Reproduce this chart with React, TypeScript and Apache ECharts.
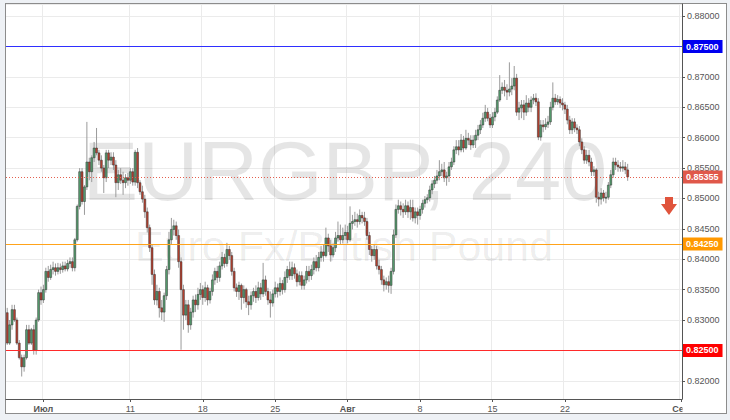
import React, { useEffect, useRef } from "react";
import * as echarts from "echarts";

// trading days shown on the 4-hour chart (Jun 28 starts at 12:00, Sep 1 only its first slot)
const tradingDays = [
  "2016-06-28", "2016-06-29", "2016-06-30", "2016-07-01",
  "2016-07-04", "2016-07-05", "2016-07-06", "2016-07-07", "2016-07-08",
  "2016-07-11", "2016-07-12", "2016-07-13", "2016-07-14", "2016-07-15",
  "2016-07-18", "2016-07-19", "2016-07-20", "2016-07-21", "2016-07-22",
  "2016-07-25", "2016-07-26", "2016-07-27", "2016-07-28", "2016-07-29",
  "2016-08-01", "2016-08-02", "2016-08-03", "2016-08-04", "2016-08-05",
  "2016-08-08", "2016-08-09", "2016-08-10", "2016-08-11", "2016-08-12",
  "2016-08-15", "2016-08-16", "2016-08-17", "2016-08-18", "2016-08-19",
  "2016-08-22", "2016-08-23", "2016-08-24", "2016-08-25", "2016-08-26",
  "2016-08-29", "2016-08-30", "2016-08-31", "2016-09-01",
];
const sessionHours = [0, 4, 8, 12, 16, 20];
const firstDayStartHour = 12;

const tickDates = ["2016-07-01", "2016-07-11", "2016-07-18", "2016-07-25", "2016-08-01", "2016-08-08", "2016-08-15", "2016-08-22", "2016-09-01"];
const tickLabels = ["Июл", "11", "18", "25", "Авг", "8", "15", "22", "Сен"];
const monthLabels = ["Июл", "Авг", "Сен"];

// EURGBP 4H candles: [open, close, low, high]
const ohlc = [
  // Jun 28
  [0.8312, 0.8262, 0.8259, 0.8320], [0.8262, 0.8292, 0.8259, 0.8300], [0.8292, 0.8317, 0.8284, 0.8325],
  // Jun 29
  [0.8317, 0.8300, 0.8297, 0.8325], [0.8300, 0.8262, 0.8259, 0.8304], [0.8262, 0.8238, 0.8235, 0.8267], [0.8238, 0.8223, 0.8207, 0.8243], [0.8223, 0.8238, 0.8215, 0.8243], [0.8238, 0.8284, 0.8235, 0.8292],
  // Jun 30
  [0.8284, 0.8262, 0.8259, 0.8292], [0.8262, 0.8284, 0.8259, 0.8287], [0.8284, 0.8250, 0.8243, 0.8292], [0.8250, 0.8300, 0.8243, 0.8304], [0.8300, 0.8345, 0.8297, 0.8350], [0.8345, 0.8333, 0.8325, 0.8355],
  // Jul 1
  [0.8333, 0.8350, 0.8328, 0.8358], [0.8350, 0.8380, 0.8345, 0.8386], [0.8380, 0.8370, 0.8363, 0.8389], [0.8370, 0.8383, 0.8366, 0.8391], [0.8383, 0.8386, 0.8375, 0.8396], [0.8386, 0.8380, 0.8373, 0.8393],
  // Jul 4
  [0.8380, 0.8386, 0.8375, 0.8394], [0.8386, 0.8383, 0.8376, 0.8393], [0.8383, 0.8389, 0.8378, 0.8396], [0.8389, 0.8384, 0.8380, 0.8396], [0.8384, 0.8393, 0.8380, 0.8399], [0.8393, 0.8396, 0.8386, 0.8403],
  // Jul 5
  [0.8396, 0.8386, 0.8380, 0.8403], [0.8386, 0.8432, 0.8380, 0.8435], [0.8432, 0.8487, 0.8429, 0.8490], [0.8487, 0.8544, 0.8482, 0.8550], [0.8544, 0.8495, 0.8490, 0.8550], [0.8495, 0.8519, 0.8473, 0.8522],
  // Jul 6
  [0.8519, 0.8560, 0.8514, 0.8626], [0.8560, 0.8544, 0.8530, 0.8567], [0.8544, 0.8567, 0.8527, 0.8571], [0.8567, 0.8583, 0.8560, 0.8593], [0.8583, 0.8575, 0.8571, 0.8616], [0.8575, 0.8563, 0.8555, 0.8580],
  // Jul 7
  [0.8563, 0.8550, 0.8544, 0.8571], [0.8550, 0.8534, 0.8509, 0.8555], [0.8534, 0.8575, 0.8527, 0.8580], [0.8575, 0.8563, 0.8550, 0.8580], [0.8563, 0.8568, 0.8555, 0.8576], [0.8568, 0.8555, 0.8547, 0.8576],
  // Jul 8
  [0.8555, 0.8526, 0.8502, 0.8563], [0.8526, 0.8539, 0.8514, 0.8547], [0.8539, 0.8530, 0.8524, 0.8550], [0.8530, 0.8526, 0.8506, 0.8544], [0.8526, 0.8534, 0.8517, 0.8540], [0.8534, 0.8530, 0.8521, 0.8542],
  // Jul 11
  [0.8530, 0.8544, 0.8524, 0.8550], [0.8544, 0.8527, 0.8521, 0.8550], [0.8527, 0.8576, 0.8521, 0.8580], [0.8576, 0.8526, 0.8517, 0.8583], [0.8526, 0.8511, 0.8506, 0.8530], [0.8511, 0.8499, 0.8493, 0.8521],
  // Jul 12
  [0.8499, 0.8478, 0.8468, 0.8506], [0.8478, 0.8452, 0.8444, 0.8485], [0.8452, 0.8419, 0.8412, 0.8457], [0.8419, 0.8375, 0.8358, 0.8424], [0.8375, 0.8333, 0.8325, 0.8383], [0.8333, 0.8347, 0.8324, 0.8358],
  // Jul 13
  [0.8347, 0.8320, 0.8304, 0.8353], [0.8320, 0.8313, 0.8300, 0.8333], [0.8313, 0.8340, 0.8297, 0.8345], [0.8340, 0.8383, 0.8333, 0.8389], [0.8383, 0.8432, 0.8375, 0.8445], [0.8432, 0.8449, 0.8424, 0.8468],
  // Jul 14
  [0.8449, 0.8455, 0.8439, 0.8465], [0.8455, 0.8439, 0.8432, 0.8462], [0.8439, 0.8396, 0.8386, 0.8449], [0.8396, 0.8350, 0.8251, 0.8403], [0.8350, 0.8308, 0.8284, 0.8358], [0.8308, 0.8325, 0.8300, 0.8333],
  // Jul 15
  [0.8325, 0.8292, 0.8279, 0.8333], [0.8292, 0.8313, 0.8284, 0.8320], [0.8313, 0.8333, 0.8304, 0.8340], [0.8333, 0.8325, 0.8313, 0.8342], [0.8325, 0.8342, 0.8317, 0.8353], [0.8342, 0.8350, 0.8333, 0.8361],
  // Jul 18
  [0.8350, 0.8337, 0.8325, 0.8357], [0.8337, 0.8353, 0.8330, 0.8363], [0.8353, 0.8333, 0.8324, 0.8358], [0.8333, 0.8347, 0.8327, 0.8353], [0.8347, 0.8366, 0.8340, 0.8375], [0.8366, 0.8380, 0.8358, 0.8386],
  // Jul 19
  [0.8380, 0.8370, 0.8361, 0.8389], [0.8370, 0.8389, 0.8363, 0.8396], [0.8389, 0.8403, 0.8383, 0.8412], [0.8403, 0.8393, 0.8386, 0.8409], [0.8393, 0.8416, 0.8388, 0.8427], [0.8416, 0.8406, 0.8399, 0.8422],
  // Jul 20
  [0.8406, 0.8380, 0.8373, 0.8412], [0.8380, 0.8353, 0.8347, 0.8386], [0.8353, 0.8347, 0.8338, 0.8360], [0.8347, 0.8357, 0.8333, 0.8363], [0.8357, 0.8337, 0.8317, 0.8360], [0.8337, 0.8350, 0.8327, 0.8357],
  // Jul 21
  [0.8350, 0.8330, 0.8320, 0.8353], [0.8330, 0.8325, 0.8308, 0.8340], [0.8325, 0.8340, 0.8317, 0.8347], [0.8340, 0.8347, 0.8330, 0.8353], [0.8347, 0.8337, 0.8328, 0.8357], [0.8337, 0.8353, 0.8332, 0.8363],
  // Jul 22
  [0.8353, 0.8343, 0.8333, 0.8361], [0.8343, 0.8366, 0.8338, 0.8394], [0.8366, 0.8347, 0.8340, 0.8373], [0.8347, 0.8333, 0.8325, 0.8353], [0.8333, 0.8328, 0.8304, 0.8347], [0.8328, 0.8343, 0.8322, 0.8350],
  // Jul 25
  [0.8343, 0.8353, 0.8337, 0.8363], [0.8353, 0.8347, 0.8337, 0.8360], [0.8347, 0.8360, 0.8340, 0.8370], [0.8360, 0.8350, 0.8342, 0.8366], [0.8350, 0.8370, 0.8345, 0.8380], [0.8370, 0.8383, 0.8361, 0.8389],
  // Jul 26
  [0.8383, 0.8373, 0.8366, 0.8396], [0.8373, 0.8386, 0.8366, 0.8396], [0.8386, 0.8376, 0.8368, 0.8393], [0.8376, 0.8363, 0.8355, 0.8383], [0.8363, 0.8373, 0.8357, 0.8380], [0.8373, 0.8357, 0.8350, 0.8380],
  // Jul 27
  [0.8357, 0.8366, 0.8350, 0.8373], [0.8366, 0.8380, 0.8360, 0.8389], [0.8380, 0.8373, 0.8363, 0.8389], [0.8373, 0.8383, 0.8366, 0.8391], [0.8383, 0.8396, 0.8375, 0.8403], [0.8396, 0.8386, 0.8380, 0.8407],
  // Jul 28
  [0.8386, 0.8403, 0.8380, 0.8412], [0.8403, 0.8412, 0.8396, 0.8422], [0.8412, 0.8406, 0.8396, 0.8424], [0.8406, 0.8435, 0.8403, 0.8452], [0.8435, 0.8422, 0.8412, 0.8442], [0.8422, 0.8407, 0.8396, 0.8432],
  // Jul 29
  [0.8407, 0.8419, 0.8403, 0.8426], [0.8419, 0.8435, 0.8412, 0.8445], [0.8435, 0.8439, 0.8429, 0.8462], [0.8439, 0.8432, 0.8424, 0.8457], [0.8432, 0.8439, 0.8426, 0.8452], [0.8439, 0.8444, 0.8432, 0.8457],
  // Aug 1
  [0.8444, 0.8432, 0.8426, 0.8455], [0.8432, 0.8459, 0.8429, 0.8487], [0.8459, 0.8462, 0.8449, 0.8473], [0.8462, 0.8465, 0.8455, 0.8478], [0.8465, 0.8462, 0.8452, 0.8475], [0.8462, 0.8472, 0.8457, 0.8482],
  // Aug 2
  [0.8472, 0.8468, 0.8459, 0.8478], [0.8468, 0.8462, 0.8455, 0.8478], [0.8462, 0.8439, 0.8432, 0.8468], [0.8439, 0.8416, 0.8407, 0.8445], [0.8416, 0.8406, 0.8396, 0.8422], [0.8406, 0.8416, 0.8399, 0.8424],
  // Aug 3
  [0.8416, 0.8389, 0.8383, 0.8422], [0.8389, 0.8383, 0.8375, 0.8399], [0.8383, 0.8366, 0.8358, 0.8389], [0.8366, 0.8358, 0.8347, 0.8373], [0.8358, 0.8363, 0.8350, 0.8370], [0.8363, 0.8357, 0.8345, 0.8373],
  // Aug 4
  [0.8357, 0.8380, 0.8343, 0.8386], [0.8380, 0.8440, 0.8375, 0.8449], [0.8440, 0.8482, 0.8435, 0.8490], [0.8482, 0.8488, 0.8475, 0.8498], [0.8488, 0.8482, 0.8472, 0.8495], [0.8482, 0.8478, 0.8468, 0.8492],
  // Aug 5
  [0.8478, 0.8488, 0.8473, 0.8498], [0.8488, 0.8478, 0.8468, 0.8495], [0.8478, 0.8485, 0.8465, 0.8498], [0.8485, 0.8468, 0.8462, 0.8498], [0.8468, 0.8478, 0.8459, 0.8485], [0.8478, 0.8472, 0.8457, 0.8485],
  // Aug 8
  [0.8472, 0.8482, 0.8465, 0.8488], [0.8482, 0.8492, 0.8475, 0.8498], [0.8492, 0.8498, 0.8485, 0.8504], [0.8498, 0.8501, 0.8492, 0.8507], [0.8501, 0.8514, 0.8495, 0.8521], [0.8514, 0.8524, 0.8507, 0.8530],
  // Aug 9
  [0.8524, 0.8530, 0.8517, 0.8537], [0.8530, 0.8537, 0.8524, 0.8547], [0.8537, 0.8544, 0.8530, 0.8563], [0.8544, 0.8547, 0.8537, 0.8557], [0.8547, 0.8534, 0.8527, 0.8560], [0.8534, 0.8537, 0.8521, 0.8544],
  // Aug 10
  [0.8537, 0.8552, 0.8527, 0.8560], [0.8552, 0.8560, 0.8547, 0.8567], [0.8560, 0.8580, 0.8555, 0.8586], [0.8580, 0.8585, 0.8573, 0.8596], [0.8585, 0.8580, 0.8571, 0.8596], [0.8580, 0.8596, 0.8576, 0.8606],
  // Aug 11
  [0.8596, 0.8583, 0.8576, 0.8603], [0.8583, 0.8599, 0.8580, 0.8613], [0.8599, 0.8596, 0.8588, 0.8608], [0.8596, 0.8588, 0.8580, 0.8604], [0.8588, 0.8596, 0.8583, 0.8604], [0.8596, 0.8604, 0.8583, 0.8613],
  // Aug 12
  [0.8604, 0.8613, 0.8596, 0.8621], [0.8613, 0.8621, 0.8606, 0.8629], [0.8621, 0.8632, 0.8616, 0.8641], [0.8632, 0.8642, 0.8626, 0.8654], [0.8642, 0.8632, 0.8627, 0.8649], [0.8632, 0.8621, 0.8616, 0.8639],
  // Aug 15
  [0.8621, 0.8634, 0.8616, 0.8642], [0.8634, 0.8642, 0.8627, 0.8649], [0.8642, 0.8662, 0.8639, 0.8668], [0.8662, 0.8678, 0.8659, 0.8703], [0.8678, 0.8683, 0.8672, 0.8691], [0.8683, 0.8678, 0.8668, 0.8695],
  // Aug 16
  [0.8678, 0.8675, 0.8662, 0.8688], [0.8675, 0.8680, 0.8668, 0.8724], [0.8680, 0.8685, 0.8670, 0.8698], [0.8685, 0.8698, 0.8678, 0.8718], [0.8698, 0.8642, 0.8636, 0.8705], [0.8642, 0.8649, 0.8629, 0.8659],
  // Aug 17
  [0.8649, 0.8654, 0.8632, 0.8662], [0.8654, 0.8642, 0.8629, 0.8662], [0.8642, 0.8657, 0.8636, 0.8670], [0.8657, 0.8650, 0.8642, 0.8665], [0.8650, 0.8662, 0.8642, 0.8668], [0.8662, 0.8665, 0.8655, 0.8672],
  // Aug 18
  [0.8665, 0.8659, 0.8652, 0.8673], [0.8659, 0.8601, 0.8596, 0.8665], [0.8601, 0.8621, 0.8595, 0.8629], [0.8621, 0.8618, 0.8609, 0.8629], [0.8618, 0.8622, 0.8613, 0.8632], [0.8622, 0.8626, 0.8616, 0.8636],
  // Aug 19
  [0.8626, 0.8650, 0.8621, 0.8659], [0.8650, 0.8665, 0.8645, 0.8691], [0.8665, 0.8659, 0.8654, 0.8672], [0.8659, 0.8663, 0.8654, 0.8670], [0.8663, 0.8657, 0.8649, 0.8668], [0.8657, 0.8654, 0.8645, 0.8665],
  // Aug 22
  [0.8654, 0.8647, 0.8639, 0.8659], [0.8647, 0.8629, 0.8622, 0.8654], [0.8629, 0.8613, 0.8606, 0.8636], [0.8613, 0.8626, 0.8606, 0.8632], [0.8626, 0.8616, 0.8609, 0.8632], [0.8616, 0.8613, 0.8606, 0.8622],
  // Aug 23
  [0.8613, 0.8593, 0.8586, 0.8619], [0.8593, 0.8580, 0.8573, 0.8599], [0.8580, 0.8563, 0.8557, 0.8586], [0.8563, 0.8571, 0.8557, 0.8580], [0.8571, 0.8560, 0.8553, 0.8580], [0.8560, 0.8544, 0.8537, 0.8567],
  // Aug 24
  [0.8544, 0.8547, 0.8537, 0.8553], [0.8547, 0.8502, 0.8493, 0.8550], [0.8502, 0.8499, 0.8487, 0.8511], [0.8499, 0.8509, 0.8490, 0.8517], [0.8509, 0.8501, 0.8495, 0.8514], [0.8501, 0.8502, 0.8492, 0.8511],
  // Aug 25
  [0.8502, 0.8522, 0.8498, 0.8527], [0.8522, 0.8539, 0.8517, 0.8547], [0.8539, 0.8560, 0.8534, 0.8567], [0.8560, 0.8555, 0.8547, 0.8567], [0.8555, 0.8552, 0.8544, 0.8563], [0.8552, 0.8550, 0.8544, 0.8560],
  // Aug 26
  [0.8550, 0.8552, 0.8544, 0.8563], [0.8552, 0.8547, 0.8540, 0.8560], [0.8547, 0.85355, 0.8529, 0.8557],
];

const levelValues = [0.875, 0.8425, 0.825];
const levelLineColors = ["#2f2fff", "#ffa31a", "#ff2a2a"];
const levelBadgeColors = ["#0000f0", "#ff9800", "#ff0000"];
const lastPrice = 0.85355;

const FONT = '"Liberation Sans", Arial, sans-serif';
const UP = "#559e6e";
const DOWN = "#b8402e";

function buildCategories(): string[] {
  const out: string[] = [];
  tradingDays.forEach((d, k) => {
    let hours = sessionHours;
    if (k === 0) hours = sessionHours.filter((h) => h >= firstDayStartHour);
    if (k === tradingDays.length - 1) hours = [sessionHours[0]];
    hours.forEach((h) => out.push(`${d} ${String(h).padStart(2, "0")}:00`));
  });
  return out;
}

export default function App() {
  const ref = useRef<HTMLDivElement>(null);
  useEffect(() => {
    if (!ref.current) return;
    const chart = echarts.init(ref.current, undefined, { renderer: "svg" });
    const categories = buildCategories();
    const tickMap: Record<string, string> = {};
    tickDates.forEach((d, i) => (tickMap[d] = tickLabels[i]));
    const isTick = (_i: number, v: string) => v.endsWith(" 00:00") && tickMap[v.slice(0, 10)] !== undefined;
    const data = ohlc.map((r, i) => [i, r[0], r[1], r[2], r[3]]);

    const badge = (bg: string, text: string) => ({
      show: true,
      position: "end",
      distance: 1,
      formatter: text,
      color: "#fff",
      fontWeight: "bold",
      fontSize: 9,
      fontFamily: FONT,
      backgroundColor: bg,
      padding: [2, 4, 2, 3],
    });

    const markData: any[] = levelValues.map((v, i) => ({
      yAxis: v,
      lineStyle: { color: levelLineColors[i], width: 1, type: "solid" },
      label: badge(levelBadgeColors[i], v.toFixed(5)),
    }));
    markData.push({
      yAxis: lastPrice,
      lineStyle: { color: "#e4604f", width: 1, type: [1, 2] },
      label: badge("#e0584a", lastPrice.toFixed(5)),
    });

    chart.setOption({
      animation: false,
      backgroundColor: "transparent",
      grid: { left: 6, right: 48, top: 4, bottom: 21, containLabel: false },
      xAxis: {
        type: "category",
        data: categories,
        boundaryGap: true,
        axisLine: { lineStyle: { color: "#555", width: 1 } },
        axisTick: { show: true, interval: isTick, alignWithLabel: true, length: 3, lineStyle: { color: "#555" } },
        axisLabel: {
          interval: isTick,
          margin: 5,
          color: "#555",
          fontSize: 9,
          fontFamily: FONT,
          formatter: (v: string) => {
            const t = tickMap[v.slice(0, 10)] || "";
            return monthLabels.includes(t) ? `{m|${t}}` : t;
          },
          rich: { m: { fontWeight: "bold", fontSize: 9, color: "#555", fontFamily: FONT } },
        },
        splitLine: { show: true, interval: isTick, lineStyle: { color: "#ebebeb", width: 1 } },
      },
      yAxis: {
        type: "value",
        position: "right",
        min: 0.817,
        max: 0.882,
        splitNumber: 13,
        minInterval: 0.005,
        maxInterval: 0.005,
        axisLine: { show: true, lineStyle: { color: "#555", width: 1 } },
        axisTick: { show: true, length: 3, lineStyle: { color: "#555" } },
        axisLabel: {
          margin: 5,
          color: "#555",
          fontSize: 9,
          fontFamily: FONT,
          showMinLabel: false,
          showMaxLabel: false,
          formatter: (v: number) => v.toFixed(5),
        },
        splitLine: { show: true, lineStyle: { color: "#ebebeb", width: 1 } },
      },
      graphic: [
        {
          type: "text",
          x: 345,
          y: 171,
          z: 1,
          silent: true,
          style: {
            text: "EURGBP, 240",
            fontSize: 83,
            lineHeight: 62,
            fontFamily: FONT,
            fill: "rgba(0,0,0,0.1)",
            align: "center",
            verticalAlign: "middle",
          },
        },
        {
          type: "text",
          x: 344,
          y: 246,
          z: 1,
          silent: true,
          style: {
            text: "Euro Fx/British Pound",
            fontSize: 43,
            lineHeight: 31,
            fontFamily: FONT,
            fill: "rgba(0,0,0,0.08)",
            align: "center",
            verticalAlign: "middle",
          },
        },
        {
          type: "polygon",
          z: 10,
          silent: true,
          shape: { points: [[665, 197], [673, 197], [673, 204], [677, 204], [669, 215], [661, 204], [665, 204]] },
          style: { fill: "#e0543c" },
        },
        {
          type: "rect",
          z: 100,
          silent: true,
          shape: { x: 682.5, y: 400, width: 42, height: 12 },
          style: { fill: "#ffffff" },
        },
      ],
      series: [
        {
          type: "custom",
          name: "EURGBP",
          data,
          encode: { x: 0, y: [1, 2, 3, 4] },
          clip: true,
          z: 3,
          renderItem: (params: any, api: any) => {
            const i = api.value(0);
            const o = api.value(1);
            const c = api.value(2);
            const l = api.value(3);
            const h = api.value(4);
            const po = api.coord([i, o]);
            const pc = api.coord([i, c]);
            const pl = api.coord([i, l]);
            const ph = api.coord([i, h]);
            const bw = api.size([1, 0])[0];
            const w = Math.max(1.2, bw * 0.8);
            const x = po[0];
            const top = Math.min(po[1], pc[1]);
            const bot = Math.max(po[1], pc[1]);
            const up = c >= o;
            return {
              type: "group",
              children: [
                {
                  type: "line",
                  shape: { x1: x, y1: ph[1], x2: x, y2: pl[1] },
                  style: { stroke: "#9a9a9a", lineWidth: 1 },
                },
                {
                  type: "rect",
                  shape: { x: x - w / 2, y: top, width: w, height: Math.max(1, bot - top) },
                  style: { fill: up ? UP : DOWN, stroke: "#303030", lineWidth: 0.5 },
                },
              ],
            };
          },
        },
        {
          type: "line",
          name: "levels",
          data: [],
          z: 4,
          silent: true,
          markLine: {
            silent: true,
            precision: 5,
            symbol: ["none", "none"],
            animation: false,
            data: markData,
          },
        },
      ],
    });
    return () => chart.dispose();
  }, []);

  return (
    <div style={{ position: "fixed", left: 0, top: 0, width: 730, height: 420, background: "#eef1f5" }}>
      <div
        style={{
          position: "absolute",
          left: 5,
          top: 3,
          width: 722,
          height: 411,
          boxSizing: "border-box",
          border: "1px solid #8c8c8c",
          background: "#ffffff",
        }}
      />
      <div ref={ref} style={{ position: "absolute", left: 0, top: 0, width: 730, height: 420 }} />
    </div>
  );
}
